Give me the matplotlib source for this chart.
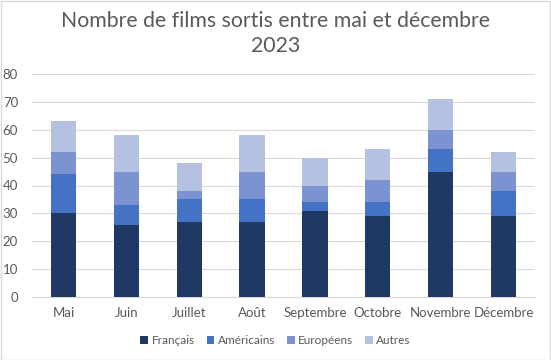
import matplotlib.pyplot as plt
from matplotlib.patches import Rectangle
import numpy as np

plt.rcParams['font.family'] = ['Lato', 'DejaVu Sans']

mois = ['Mai', 'Juin', 'Juillet', 'Août', 'Septembre', 'Octobre', 'Novembre', 'Décembre']
francais = [30, 26, 27, 27, 31, 29, 45, 29]
americains = [14, 7, 8, 8, 3, 5, 8, 9]
europeens = [8, 12, 3, 10, 6, 8, 7, 7]
autres = [11, 13, 10, 13, 10, 11, 11, 7]

series = [('Français', francais, '#203864'),
          ('Américains', americains, '#4472C4'),
          ('Européens', europeens, '#7B93D1'),
          ('Autres', autres, '#B4C1E1')]

fig = plt.figure(figsize=(5.51, 3.6), dpi=100)
ax = fig.add_axes([32/551, 1 - 297/360, 503/551, 223/360])

x = np.arange(len(mois))
bottom = np.zeros(len(mois))
for name, vals, col in series:
    ax.bar(x, vals, 0.4, bottom=bottom, color=col, label=name, zorder=3)
    bottom += np.array(vals)

ax.set_xlim(-0.5, len(mois) - 0.5)
ax.set_ylim(0, 80)
ax.set_yticks(range(0, 81, 10))
ax.set_xticks(x)
ax.set_xticklabels(mois)
ax.tick_params(axis='both', length=0, labelsize=9.5, colors='#595959')
ax.tick_params(axis='y', pad=10)
ax.tick_params(axis='x', pad=7)
ax.grid(axis='y', color='#D9D9D9', linewidth=0.8, zorder=0)
for s in ['top', 'right', 'left']:
    ax.spines[s].set_visible(False)
ax.spines['bottom'].set_color('#D9D9D9')

fig.suptitle('Nombre de films sortis entre mai et décembre\n2023', y=0.97,
             fontsize=15.3, color='#595959', linespacing=1.35)

fig.legend(loc='center', bbox_to_anchor=(0.5, 1 - 341/360), ncol=4, frameon=False,
           fontsize=8.5, labelcolor='#595959', handlelength=0.65, handleheight=0.65,
           handletextpad=0.3, columnspacing=1.0)

fig.patches.append(Rectangle((0.001, 0.001), 0.997, 0.997, transform=fig.transFigure,
                             fill=False, edgecolor='#D9D9D9', linewidth=1))

fig.savefig('out.png', dpi=100)
